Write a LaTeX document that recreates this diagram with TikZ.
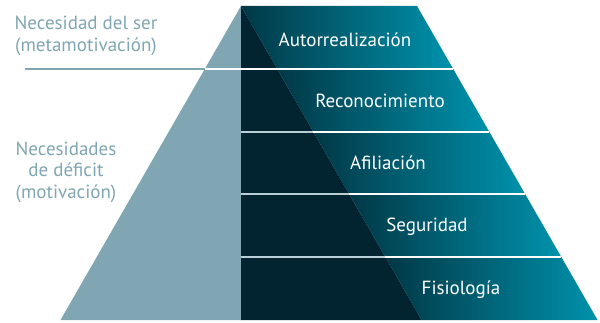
\documentclass[tikz,border=0pt]{standalone}
\usepackage{fontspec}
\setmainfont{PT Sans}
\definecolor{paleblue}{HTML}{7FA6B2}
\definecolor{deepteal}{HTML}{012430}
\definecolor{darkteal}{HTML}{013846}
\definecolor{brightteal}{HTML}{0092AC}
\tikzset{
  sidetext/.style={text=paleblue, font=\fontsize{19}{21.5}\selectfont, align=center, inner sep=0pt},
  leveltext/.style={text=white, font=\fontsize{19}{21.5}\selectfont, inner sep=0pt},
}
\begin{document}
\begin{tikzpicture}[x=1pt,y=-1pt]
	\useasboundingbox (0,0) rectangle (600,323);

	% Светлая левая часть
	\coordinate (apex) at (241,6);
	\coordinate (baseL) at (60.5,320);
	\coordinate (baseM) at (241,320);
	\fill[paleblue] (apex) -- (baseL) -- (baseM) -- cycle;

	% Ступени справа
	\foreach \i in {0,...,4} {
		\pgfmathsetmacro{\ya}{6+62.8*\i}
		\pgfmathsetmacro{\yb}{\ya+62.8}
		\pgfmathsetmacro{\da}{241+0.575*(\ya-6)}
		\pgfmathsetmacro{\db}{241+0.575*(\yb-6)}
		\pgfmathsetmacro{\ra}{417+0.575*(\ya-6)}
		\pgfmathsetmacro{\rb}{417+0.575*(\yb-6)}
		\shade[left color=darkteal, right color=brightteal]
			(\da,\ya) -- (\ra,\ya) -- (\rb,\yb) -- (\db,\yb) -- cycle;
		\fill[deepteal] (241,\ya) -- (\da,\ya) -- (\db,\yb) -- (241,\yb) -- cycle;
	}

	% Разделители ступеней
	\foreach \i in {2,3,4} {
		\pgfmathsetmacro{\y}{6+62.8*\i}
		\pgfmathsetmacro{\d}{241+0.575*(\y-6)}
		\pgfmathsetmacro{\r}{417+0.575*(\y-6)}
		\draw[paleblue!55!white, line width=2pt] (241,\y) -- (\d,\y);
		\draw[white, line width=2pt] (\d,\y) -- (\r,\y);
	}

	% Граница бытия и дефицита
	\coordinate (cutL) at (25,68.8);
	\coordinate (cutP) at (204.9,68.8);
	\coordinate (cutM) at (287,68.8);
	\coordinate (cutR) at (453.1,68.8);
	\draw[paleblue, line width=2pt] (cutL) -- (cutP);
	\draw[white, line width=2.5pt] (cutP) -- (cutM);
	\draw[white, line width=1.6pt] (cutM) -- (cutR);

	% Подписи слева
	\node[sidetext] (meta) at (86,36) {Necesidad del ser\\(metamotivación)};
	\node[sidetext] (deficit) at (66,172) {Necesidades\\de déficit\\(motivación)};

	% Уровни
	\node[leveltext] (autor) at (345,40) {Autorrealización};
	\node[leveltext] (recon) at (380,101) {Reconocimiento};
	\node[leveltext] (afil) at (388,163) {Afiliación};
	\node[leveltext] (segur) at (427,227) {Seguridad};
	\node[leveltext] (fisio) at (461,290) {Fisiología};
\end{tikzpicture}
\end{document}
